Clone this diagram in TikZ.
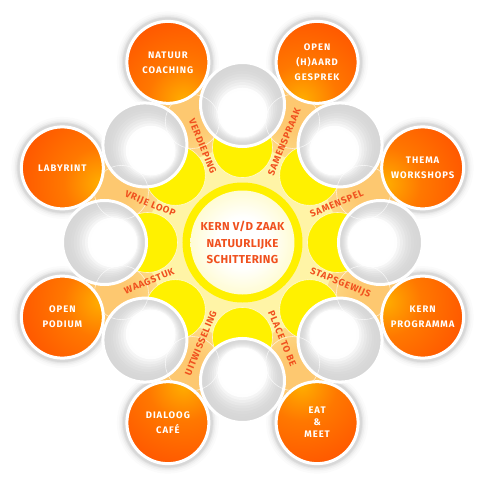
\documentclass[tikz,border=0pt]{standalone}
\usepackage{fontspec}
\setmainfont{Fira Sans}
\newfontfamily\armfont[LetterSpace=8]{Fira Sans}
\newfontfamily\circfont[LetterSpace=10]{Fira Sans}
\newfontfamily\ctrfont[LetterSpace=3]{Fira Sans}
\definecolor{pale}{HTML}{FFF4A6}
\definecolor{lorange}{HTML}{FDC870}
\definecolor{lobe}{HTML}{FFF100}
\definecolor{ring}{HTML}{FFF000}
\definecolor{ctrin}{HTML}{FFF57E}
\definecolor{orA}{HTML}{FF5A00}
\definecolor{orM}{HTML}{FF7800}
\definecolor{orB}{HTML}{FFAE00}
\definecolor{txt}{HTML}{F0501E}
\definecolor{cutgray}{rgb}{0.84,0.84,0.84}
\pgfdeclareradialshading{armshade}{\pgfpointorigin}{color(0bp)=(lorange); color(18bp)=(lorange); color(36bp)=(pale); color(50bp)=(pale)}
\pgfdeclareradialshading{ctrshade}{\pgfpointorigin}{color(0bp)=(white); color(12bp)=(white); color(50bp)=(ctrin)}
\pgfdeclareradialshading{orshade}{\pgfpointorigin}{color(0bp)=(orB); color(10bp)=(orM); color(22bp)=(orA); color(50bp)=(orA)}
\tikzset{
  armlabel/.style={text=txt, font=\armfont\bfseries\fontsize{9.5}{10}\selectfont, inner sep=0pt, anchor=center},
  circlabel/.style={text=white, font=\circfont\bfseries\fontsize{9.5}{15}\selectfont, align=center, inner sep=0pt},
  ctrlabel/.style={text=txt, font=\ctrfont\bfseries\fontsize{11.5}{16.5}\selectfont, align=center, inner sep=0pt},
  whiteborder/.style={draw=white, line width=3pt},
  ghost/.style={draw=white, opacity=0.7, line width=0.6pt}
}
\begin{document}
\begin{tikzpicture}
\useasboundingbox (-242.5pt,-242.5pt) rectangle (242.5pt,242.5pt);
\fill[white] (-242.5pt,-242.5pt) rectangle (242.5pt,242.5pt);
% soft shadows behind orange circles
\foreach \a in {22.5,67.5,...,337.5}{
  \foreach \r/\o in {51/0.015,49/0.02,47.5/0.03,46/0.04,45/0.05}{
    \fill[black,opacity=\o] (\a:195pt) circle[radius=\r pt];
  }
}
% pale body
\fill[pale] (0,0) circle[radius=130pt];
\foreach \a in {22.5,67.5,...,337.5}{
  \fill[pale,rotate=\a] (90pt,-40pt) -- (162pt,-24pt) -- (198pt,-24pt) -- (198pt,24pt) -- (162pt,24pt) -- (90pt,40pt) -- cycle;
  \begin{scope}
    \clip[rotate=\a] (90pt,-40pt) -- (162pt,-24pt) -- (198pt,-24pt) -- (198pt,24pt) -- (162pt,24pt) -- (90pt,40pt) -- cycle;
    \shade[shading=armshade] (\a:195pt) circle[radius=100pt];
  \end{scope}
}
% bright lobes
\foreach \a in {0,45,...,315}{
  \fill[lobe] (\a:95pt) circle[radius=30pt];
  \draw[ghost] (\a:95pt) circle[radius=30pt];
}
% centre
\fill[ring] (0,0) circle[radius=60pt];
\shade[shading=ctrshade] (0,0) circle[radius=52pt];
% cut-outs: white hollows with soft grey rim
\foreach \a in {0,45,...,315}{
  \foreach \kk in {0,...,10}{
    \pgfmathsetmacro{\rad}{42-1.9*\kk}
    \pgfmathsetmacro{\dst}{138-0.9*\kk}
    \pgfmathtruncatemacro{\pct}{min(100,\kk*\kk*1.2)}
    \fill[white!\pct!cutgray] (\a:\dst pt) circle[radius=\rad pt];
  }
  \draw[whiteborder] (\a:138pt) circle[radius=42pt];
}
% ghost circles in arms
\foreach \a in {22.5,67.5,...,337.5}{
  \draw[ghost] (\a:131pt) circle[radius=27pt];
}
% orange circles
\foreach \a in {22.5,67.5,...,337.5}{
  \begin{scope}
    \clip (\a:195pt) circle[radius=41pt];
    \shade[shading=orshade] (\a:154pt) circle[radius=90pt];
  \end{scope}
  \draw[whiteborder] (\a:195pt) circle[radius=41pt];
}
% circle texts
\node[circlabel] (natuur) at (112.5:195pt) {NATUUR\\COACHING};
\node[circlabel] (open) at (67.5:195pt) {OPEN\\(H)AARD\\GESPREK};
\node[circlabel] (thema) at (22.5:195pt) {THEMA\\WORKSHOPS};
\node[circlabel] (kern) at (-22.5:195pt) {KERN\\PROGRAMMA};
\node[circlabel] (eat) at (-67.5:195pt) {EAT\\[-3pt]\&\\[-3pt]MEET};
\node[circlabel] (dialoog) at (-112.5:195pt) {DIALOOG\\CAFÉ};
\node[circlabel] (podium) at (202.5:195pt) {OPEN\\PODIUM};
\node[circlabel] (labyrint) at (157.5:195pt) {LABYRINT};
% centre text
\node[ctrlabel] (centre) at (0,0) {KERN V/D ZAAK\\NATUURLIJKE\\SCHITTERING};
% arm labels
\node[armlabel, rotate=-67.5] (verdieping) at (112.5:104pt) {VERDIEPING};
\node[armlabel, rotate=67.5] (samenspraak) at (67.5:109pt) {SAMENSPRAAK};
\node[armlabel, rotate=22.5] (samenspel) at (22.5:102pt) {SAMENSPEL};
\node[armlabel, rotate=-22.5] (stapsgewijs) at (-22.5:106pt) {STAPSGEWIJS};
\node[armlabel, rotate=-67.5] (placetobe) at (-67.5:104pt) {PLACE TO BE};
\node[armlabel, rotate=67.5] (uitwisseling) at (-112.5:109pt) {UITWISSELING};
\node[armlabel, rotate=22.5] (waagstuk) at (202.5:101pt) {WAAGSTUK};
\node[armlabel, rotate=-22.5] (vrijeloop) at (157.5:100pt) {VRIJE LOOP};
\end{tikzpicture}
\end{document}
